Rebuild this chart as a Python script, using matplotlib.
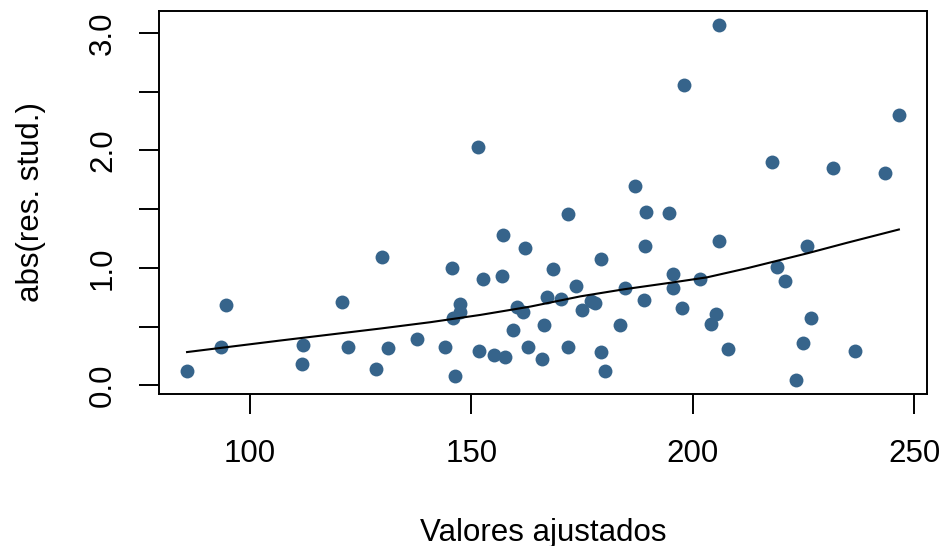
import matplotlib
matplotlib.use("Agg")
import matplotlib.pyplot as plt
from matplotlib.ticker import FixedLocator

# =============================================================================
# DATA
# =============================================================================

FITTED = [
    85.9, 93.4, 94.7, 112.0, 111.8, 120.7, 122.2, 129.9, 128.5, 131.1,
    137.8, 144.0, 145.7, 147.4, 147.4, 145.8, 146.3, 151.4, 152.7, 151.6,
    157.0, 157.2, 155.1, 157.5, 159.3, 160.4, 161.7, 162.2, 162.8, 166.4,
    166.0, 167.0, 168.5, 170.3, 171.7, 171.7, 173.7, 175.0, 176.9, 177.8,
    179.3, 179.3, 180.2, 183.6, 184.7, 186.9, 189.0, 189.2, 189.3, 194.5,
    195.4, 195.4, 197.5, 198.0, 201.7, 205.8, 206.0, 205.2, 204.1, 207.9,
    217.9, 218.9, 220.7, 223.3, 224.9, 225.8, 226.6, 231.6, 236.5, 243.3,
    246.5,
]

ABS_RES = [
    0.125, 0.331, 0.685, 0.345, 0.184, 0.708, 0.326, 1.090, 0.142, 0.320,
    0.399, 0.326, 0.999, 0.693, 0.626, 0.578, 0.080, 2.032, 0.908, 0.297,
    0.934, 1.279, 0.261, 0.241, 0.473, 0.671, 0.628, 1.171, 0.329, 0.515,
    0.227, 0.750, 0.988, 0.736, 1.460, 0.331, 0.844, 0.643, 0.720, 0.700,
    1.075, 0.286, 0.125, 0.515, 0.829, 1.698, 0.728, 1.189, 1.472, 1.466,
    0.948, 0.827, 0.662, 2.559, 0.908, 3.068, 1.231, 0.609, 0.524, 0.314,
    1.899, 1.005, 0.889, 0.048, 0.365, 1.189, 0.575, 1.848, 0.297, 1.808,
    2.298,
]

# smooth trend line
SMOOTH_X = [85.8, 106.8, 129.4, 140.7, 152.0, 163.3, 174.6, 184.4, 195.7,
            203.2, 212.2, 225.8, 234.8, 246.5]
SMOOTH_Y = [0.284, 0.382, 0.484, 0.538, 0.600, 0.671, 0.758, 0.818, 0.878,
            0.920, 0.997, 1.124, 1.214, 1.327]

X_TICKS = [100, 150, 200, 250]
Y_TICKS = [0.0, 1.0, 2.0, 3.0]
Y_MINOR = [0.5, 1.5, 2.5]

# =============================================================================
# PLOT
# =============================================================================

plt.rcParams["font.family"] = ["Liberation Sans", "DejaVu Sans"]
FS = 22.5

fig = plt.figure(figsize=(9.45, 5.46), dpi=100)
ax = fig.add_axes([0.1683, 0.2784, 0.8130, 0.7020])

ax.scatter(FITTED, ABS_RES, s=100, color="#36648B", linewidths=0, zorder=2)
ax.plot(SMOOTH_X, SMOOTH_Y, color="black", lw=1.5, zorder=3)

# R style 4% padding
xmin, xmax = min(FITTED), max(FITTED)
ymin, ymax = min(ABS_RES), max(ABS_RES)
dx = (xmax - xmin) * 0.04
dy = (ymax - ymin) * 0.04
ax.set_xlim(xmin - dx, xmax + dx)
ax.set_ylim(ymin - dy, ymax + dy)

ax.xaxis.set_major_locator(FixedLocator(X_TICKS))
ax.yaxis.set_major_locator(FixedLocator(Y_TICKS))
ax.yaxis.set_minor_locator(FixedLocator(Y_MINOR))
ax.set_xticklabels([str(t) for t in X_TICKS])
ax.set_yticklabels([f"{t:.1f}" for t in Y_TICKS], rotation=90, va="center")

ax.tick_params(axis="both", which="both", direction="out", length=14.5,
               width=1.4, labelsize=FS, colors="black")
ax.tick_params(axis="x", pad=18)
ax.tick_params(axis="y", pad=15)

for sp in ax.spines.values():
    sp.set_linewidth(1.4)

ax.set_xlabel("Valores ajustados", fontsize=FS, labelpad=35)
ax.set_ylabel("abs(res. stud.)", fontsize=FS, labelpad=30)

fig.savefig("out.png", dpi=100)
